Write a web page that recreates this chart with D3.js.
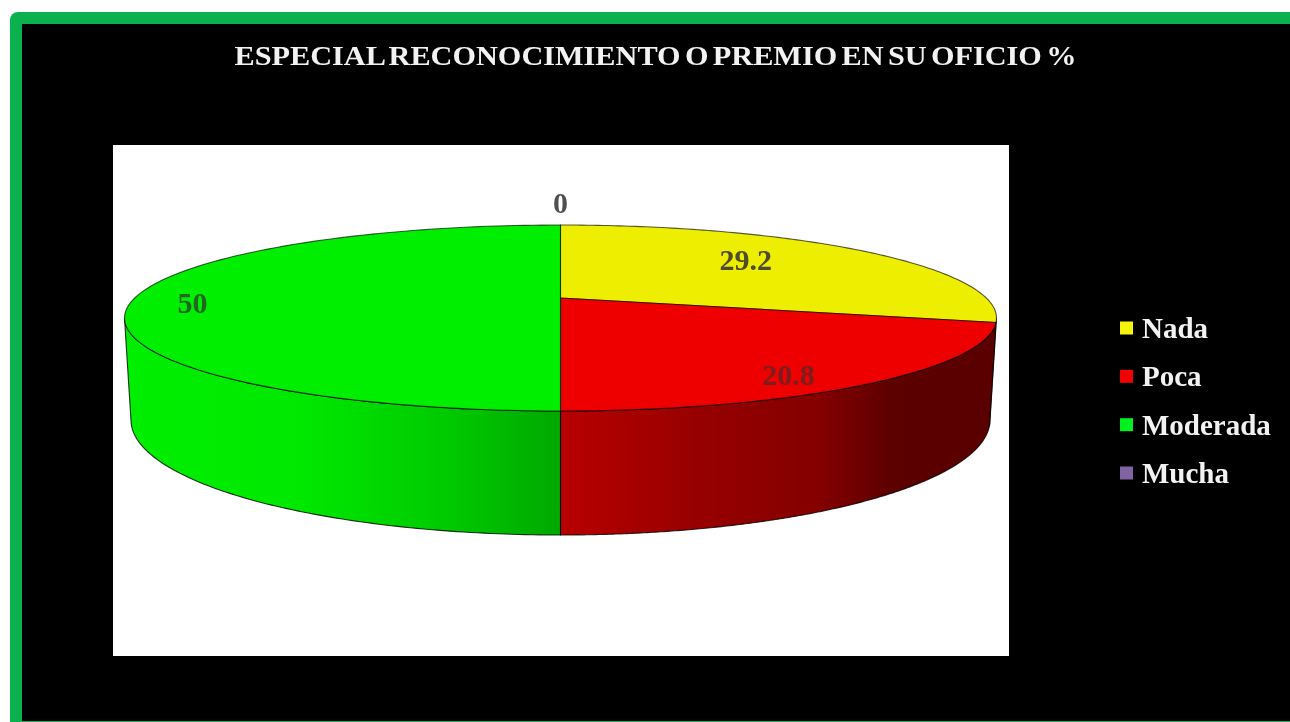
<!DOCTYPE html>
<html>
<head>
<meta charset="utf-8">
<script src="https://cdn.jsdelivr.net/npm/d3@7"></script>
<style>
html,body{margin:0;padding:0;background:#fff;overflow:hidden}
svg{display:block;filter:blur(0.45px)}
text{font-family:"Liberation Serif",serif;font-weight:bold}
</style>
</head>
<body>
<svg id="chart" width="1290" height="722"></svg>
<script>
const titleText = "ESPECIAL RECONOCIMIENTO O PREMIO EN SU OFICIO %";
const categories = ["Nada", "Poca", "Moderada", "Mucha"];
const values = [29.2, 20.8, 50, 0];
const labels = ["29.2", "20.8", "50", "0"];
const colors = ["#eeee00", "#ee0000", "#00ee00", "#8064a2"];
const legendColors = ["#f4f40c", "#f00000", "#00f020", "#8064a2"];

// Layout (unit-disc coordinates of the data labels)
const labelSpots = [[0.425, -0.624], [0.523, 0.613], [-0.844, -0.161], [0, -1.237]];
const labelOpacity = [0.85, 0.6, 0.72, 0.85];
const tilt = -0.215; // perspective: pie centre sits behind the ellipse centre

const svg = d3.select("#chart");
const defs = svg.append("defs");

// Frame
svg.append("rect").attr("x", 10).attr("y", 12).attr("width", 1320).attr("height", 760).attr("rx", 8).attr("fill", "#0bb14f");
svg.append("rect").attr("x", 22).attr("y", 24).attr("width", 1320).attr("height", 697).attr("fill", "#000");
svg.append("rect").attr("x", 113).attr("y", 145).attr("width", 896).attr("height", 511).attr("fill", "#fff");

svg.append("text").attr("x", 655.5).attr("y", 65).attr("text-anchor", "middle")
  .attr("font-size", 28).attr("word-spacing", -3).attr("textLength", 842).attr("lengthAdjust", "spacingAndGlyphs")
  .attr("fill", "#f2f2f2").text(titleText);

// Scales for the top face and the base of the disc
const xTop = d3.scaleLinear().domain([-1, 1]).range([124.5, 996.5]);
const yTop = d3.scaleLinear().domain([-1, 1]).range([225, 411]);
const xBase = d3.scaleLinear().domain([-1, 1]).range([131, 990]);
const yBase = d3.scaleLinear().domain([-1, 1]).range([305, 535]);

// Circle-preserving projective map: angle (clockwise from top) -> projected unit disc
function project(angle, r = 1) {
  const u = r * Math.sin(angle), v = -r * Math.cos(angle);
  const w = 1 + tilt * v;
  return [u * Math.sqrt(1 - tilt * tilt) / w, (v + tilt) / w];
}
const line = d3.line();
const arcs = d3.pie().sort(null).value(d => d)(values);
const samples = (a, b, n = 120) => d3.range(n + 1).map(i => a + (b - a) * i / n);

// Wall gradients
const wallStops = [
  [[0, "#6a6a00"], [1, "#5a5a00"]],
  [[0, "#b80000"], [0.3, "#990000"], [0.6, "#840000"], [0.78, "#5c0000"], [1, "#5a0000"]],
  [[0, "#00ee00"], [0.4, "#00e800"], [0.75, "#00c800"], [1, "#00a800"]],
  [[0, "#8064a2"], [1, "#8064a2"]]
];
const wallRange = [[560, 990], [560, 990], [131, 560], [131, 560]];
wallStops.forEach((stops, i) => {
  const g = defs.append("linearGradient").attr("id", "wall" + i)
    .attr("gradientUnits", "userSpaceOnUse")
    .attr("x1", wallRange[i][0]).attr("x2", wallRange[i][1]).attr("y1", 0).attr("y2", 0);
  stops.forEach(s => g.append("stop").attr("offset", s[0]).attr("stop-color", s[1]));
});

// Front walls: only the part of each slice with the rim facing the viewer
arcs.forEach((d, i) => {
  const front = samples(d.startAngle, d.endAngle, 240).filter(a => project(a)[1] >= 0);
  if (front.length < 2) return;
  const top = front.map(a => { const p = project(a); return [xTop(p[0]), yTop(p[1])]; });
  const base = front.slice().reverse().map(a => { const p = project(a); return [xBase(p[0]), yBase(p[1])]; });
  svg.append("path").attr("d", line(top.concat(base)) + "Z")
    .attr("fill", `url(#wall${i})`).attr("stroke", "#000").attr("stroke-opacity", 0.8).attr("stroke-width", 1.1);
});

// Top face
arcs.forEach((d, i) => {
  if (d.endAngle - d.startAngle <= 0) return;
  const c = project(0, 0);
  const rim = samples(d.startAngle, d.endAngle).map(a => { const p = project(a); return [xTop(p[0]), yTop(p[1])]; });
  const pts = [[xTop(c[0]), yTop(c[1])]].concat(rim);
  svg.append("path").attr("d", line(pts) + "Z")
    .attr("fill", colors[i]).attr("stroke", "#000").attr("stroke-opacity", 0.65).attr("stroke-width", 1.1);
});

// Data labels
labels.forEach((t, i) => {
  svg.append("text").attr("x", xTop(labelSpots[i][0])).attr("y", yTop(labelSpots[i][1]))
    .attr("dy", "0.34em").attr("text-anchor", "middle").attr("font-size", 30)
    .attr("fill", "#303030").attr("fill-opacity", labelOpacity[i]).text(t);
});

// Legend
const legendY = d3.scalePoint().domain(categories).range([328, 473]);
categories.forEach((c, i) => {
  const y = legendY(c);
  svg.append("rect").attr("x", 1120).attr("y", y - 6.5).attr("width", 13).attr("height", 13).attr("fill", legendColors[i]);
  svg.append("text").attr("x", 1142).attr("y", y + 10).attr("font-size", 29)
    .attr("fill", "#f2f2f2").text(c);
});
</script>
</body>
</html>
